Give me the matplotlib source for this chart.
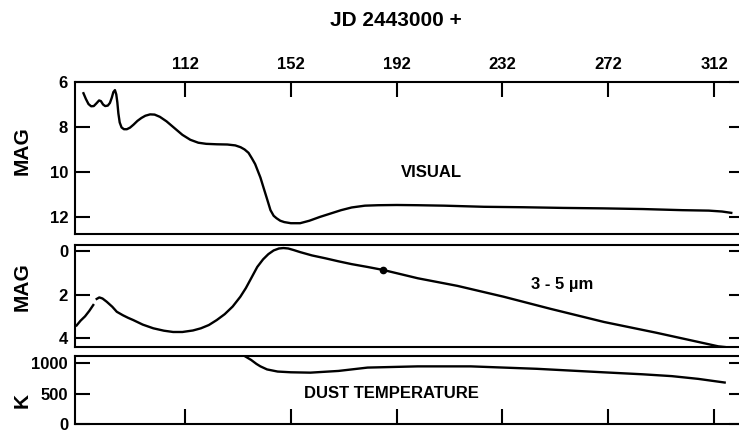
import numpy as np
import matplotlib
matplotlib.use("Agg")
import matplotlib.pyplot as plt

plt.rcParams['font.family'] = ['Liberation Sans', 'DejaVu Sans']
plt.rcParams['font.weight'] = 'bold'

# visual light curve (JD - 2443000, magnitude)
vis_day = [73.6, 74.5, 75.5, 76.5, 77.5, 78.5, 79.5, 80.2, 81.0, 81.8, 82.8, 83.6,
           84.3, 84.9, 85.5, 86.0, 86.4, 86.8, 87.3, 88.0, 88.9, 90.0,
           91.2, 92.5, 94.0, 95.5, 97.0, 98.8, 100.5, 102.5, 105, 108, 111, 114,
           117, 120, 124, 128, 131, 133, 134.5, 136, 137.3, 138.5, 139.5, 140.5,
           141.6, 143, 144.3, 145.5, 146.6, 148, 149.5, 152, 155.5, 159, 163, 167,
           171, 175, 180, 185, 192, 200, 210, 225, 240, 255, 270, 285, 300, 310,
           315, 318.5]
vis_mag = [6.5, 6.75, 6.98, 7.08, 7.07, 6.95, 6.82, 6.85, 7.0, 7.07, 7.05, 6.93,
           6.7, 6.45, 6.36, 6.55, 6.9, 7.4, 7.8, 8.02, 8.1, 8.1,
           8.03, 7.9, 7.73, 7.6, 7.5, 7.44, 7.45, 7.55, 7.75, 8.05, 8.35, 8.57,
           8.7, 8.75, 8.77, 8.78, 8.82, 8.9, 9.0, 9.15, 9.4, 9.65, 9.95, 10.25,
           10.67, 11.2, 11.7, 11.95, 12.06, 12.17, 12.23, 12.28, 12.28, 12.17, 12.0, 11.85,
           11.7, 11.58, 11.5, 11.48, 11.47, 11.48, 11.5, 11.55, 11.57, 11.6, 11.62, 11.65,
           11.7, 11.72, 11.76, 11.82]

# 3-5 micron curve (gap in the drawn line near day 78)
ir_day = [71.0, 72.5, 74.2, 75.8, 77.3, 78.0, 78.6, 79.6, 80.8, 82.4, 84.5, 86.2,
          88.5, 90.5, 92.4, 96, 100, 104, 107.5, 111, 115, 118, 121, 124, 127,
          130, 132.9, 135, 137, 139.3, 141.5, 143.5, 145.5, 147.5, 149.2, 151, 153,
          155.6, 160, 165, 170, 175, 181, 187, 200, 215, 232.5, 250, 270.4, 290,
          305, 313.6, 316]
ir_mag = [3.42, 3.2, 3.0, 2.75, 2.48, np.nan, 2.2, 2.13, 2.18, 2.33, 2.56, 2.79,
          2.95, 3.07, 3.17, 3.38, 3.55, 3.66, 3.72, 3.72, 3.65, 3.55, 3.4, 3.17, 2.9,
          2.55, 2.1, 1.7, 1.25, 0.73, 0.38, 0.14, -0.03, -0.12, -0.14, -0.12, -0.05,
          0.05, 0.2, 0.33, 0.47, 0.6, 0.73, 0.87, 1.25, 1.6, 2.1, 2.65, 3.26, 3.75,
          4.15, 4.38, 4.41]
ir_dot_day = [187]
ir_dot_mag = [0.87]

# dust temperature (K)
dust_day = [134.5, 137, 139, 140.5, 143, 147, 152, 159.4, 170, 181, 200, 220,
            245, 270, 285, 296, 306, 316]
dust_k = [1115, 1050, 985, 945, 895, 860, 848, 842, 870, 925, 945, 945,
          905, 848, 815, 785, 740, 680]

xticks = [112, 152, 192, 232, 272, 312]
xlim = (70.4, 321.8)

W, H = 739, 434
fig = plt.figure(figsize=(W / 100, H / 100), dpi=100)

def box(top, bottom):
    left, right = 75 / W, 740 / W
    return [left, 1 - bottom / H, right - left, (bottom - top) / H]

ax1 = fig.add_axes(box(82, 234))
ax2 = fig.add_axes(box(245, 347))
ax3 = fig.add_axes(box(356, 424))

lw = 1.7
for ax in (ax1, ax2, ax3):
    ax.set_xlim(xlim)
    ax.set_xticks(xticks)
    for s in ('left', 'top', 'bottom'):
        ax.spines[s].set_linewidth(1.5)
    ax.spines['right'].set_visible(False)
    ax.tick_params(axis='both', direction='in', length=11, width=1.5,
                   labelsize=12, pad=5, right=True)

ax1.plot(vis_day, vis_mag, color='black', lw=lw)
ax1.set_ylim(12.76, 6)
ax1.set_yticks([6, 8, 10, 12])
ax1.xaxis.tick_top()
ax1.tick_params(axis='x', top=True, bottom=False, labeltop=True, labelbottom=False, pad=7)
ax1.text(205, 10.04, 'VISUAL', fontsize=12, fontweight='bold', ha='center', va='center')

ax2.plot(ir_day, ir_mag, color='black', lw=lw)
ax2.plot(ir_dot_day, ir_dot_mag, 'o', color='black', ms=4.5)
ax2.set_ylim(4.41, -0.28)
ax2.set_yticks([0, 2, 4])
ax2.tick_params(axis='x', bottom=False, labelbottom=False)
ax2.text(254.5, 1.52, '3 - 5 \u00b5m', fontsize=12, fontweight='bold', ha='center', va='center')

ax3.plot(dust_day, dust_k, color='black', lw=lw, clip_on=True)
ax3.set_ylim(0, 1115)
ax3.set_yticks([0, 500, 1000])
ax3.tick_params(axis='x', labelbottom=False)
ax3.text(190, 492, 'DUST TEMPERATURE', fontsize=12, fontweight='bold', ha='center', va='center')

# shorter ticks on the right side
for ax in (ax1, ax2, ax3):
    for t in ax.yaxis.get_major_ticks():
        t.tick2line.set_markersize(8)

fig.text(396 / W, 1 - 21 / H, 'JD 2443000 +', fontsize=15, fontweight='bold',
         ha='center', va='center')
fig.text(22.5 / W, 1 - 151 / H, 'MAG', fontsize=15, fontweight='bold', rotation=90,
         ha='center', va='center')
fig.text(22.5 / W, 1 - 287 / H, 'MAG', fontsize=15, fontweight='bold', rotation=90,
         ha='center', va='center')
fig.text(22.5 / W, 1 - 401 / H, 'K', fontsize=15, fontweight='bold', rotation=90,
         ha='center', va='center')

fig.savefig('out.png', dpi=100)
